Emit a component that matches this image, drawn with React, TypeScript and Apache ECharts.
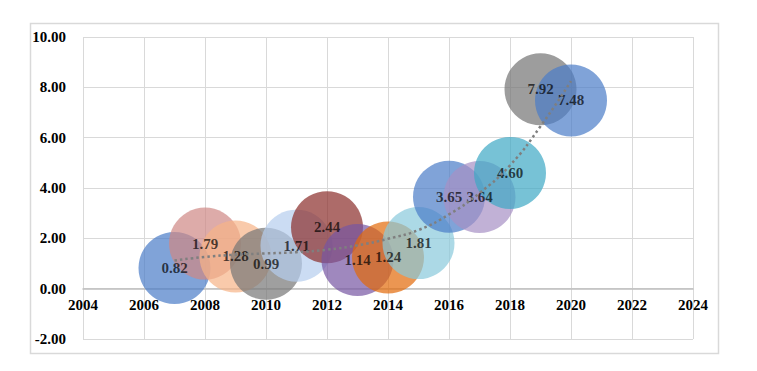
import React, { useEffect, useRef } from "react";
import * as echarts from "echarts";

const years = [2007, 2008, 2009, 2010, 2011, 2012, 2013, 2014, 2015, 2016, 2017, 2018, 2019, 2020];
const values = [0.82, 1.79, 1.28, 0.99, 1.71, 2.44, 1.14, 1.24, 1.81, 3.65, 3.64, 4.6, 7.92, 7.48];
const bubbleColors = [
  "#4A7CC8", "#CF8785", "#F7B487", "#767676", "#B5CDEE", "#8A2C2A", "#7655A2",
  "#E36A08", "#89C9DB", "#4A7CC8", "#A690C4", "#3DA8C4", "#737373", "#4A7CC8",
];
const trendValues = [1.12, 1.26, 1.35, 1.4, 1.45, 1.55, 1.72, 1.98, 2.33, 2.95, 3.8, 4.9, 6.45, 8.25];

export default function App() {
  const ref = useRef<HTMLDivElement>(null);
  useEffect(() => {
    if (!ref.current) return;
    const chart = echarts.init(ref.current, null, { renderer: "svg" });
    const font = "'Liberation Serif', 'Times New Roman', serif";
    chart.setOption({
      animation: false,
      backgroundColor: "#ffffff",
      graphic: [
        {
          type: "rect",
          shape: { x: 30.5, y: 23.5, width: 688, height: 330 },
          style: { fill: "none", stroke: "#D9D9D9", lineWidth: 1.5 },
          silent: true,
        },
      ],
      grid: { left: 83, top: 37, right: 64, bottom: 32 },
      xAxis: {
        type: "value",
        min: 2004,
        max: 2024,
        interval: 2,
        offset: -50.33,
        axisLine: { show: true, onZero: false, lineStyle: { color: "#BFBFBF", width: 1.5 } },
        axisTick: { show: false },
        axisLabel: {
          color: "#000",
          fontFamily: font,
          fontWeight: "bold",
          fontSize: 15,
          margin: 9,
          formatter: (v: number) => String(v),
        },
        splitLine: { show: true, lineStyle: { color: "#D9D9D9", width: 1 } },
      },
      yAxis: {
        type: "value",
        min: -2,
        max: 10,
        interval: 2,
        axisLine: { show: false },
        axisTick: { show: false },
        axisLabel: {
          color: "#000",
          fontFamily: font,
          fontWeight: "bold",
          fontSize: 15,
          margin: 17,
          formatter: (v: number) => v.toFixed(2),
        },
        splitLine: { show: true, lineStyle: { color: "#D9D9D9", width: 1 } },
      },
      series: [
        {
          type: "scatter",
          symbol: "circle",
          symbolSize: 72,
          z: 2,
          data: years.map((y, i) => ({
            value: [y, values[i]],
            itemStyle: { color: bubbleColors[i], opacity: 0.7 },
          })),
          label: {
            show: true,
            position: "inside",
            color: "#000",
            fontFamily: font,
            fontWeight: "bold",
            fontSize: 15,
            formatter: (p: any) => p.value[1].toFixed(2),
          },
        },
        {
          type: "line",
          smooth: true,
          symbol: "none",
          z: 3,
          data: years.map((y, i) => [y, trendValues[i]]),
          lineStyle: { color: "#7F7F7F", width: 2.5, type: [2.5, 3] },
        },
      ],
    });
    return () => chart.dispose();
  }, []);
  return (
    <div
      ref={ref}
      style={{ position: "absolute", left: 0, top: 0, width: 757, height: 371 }}
    />
  );
}
